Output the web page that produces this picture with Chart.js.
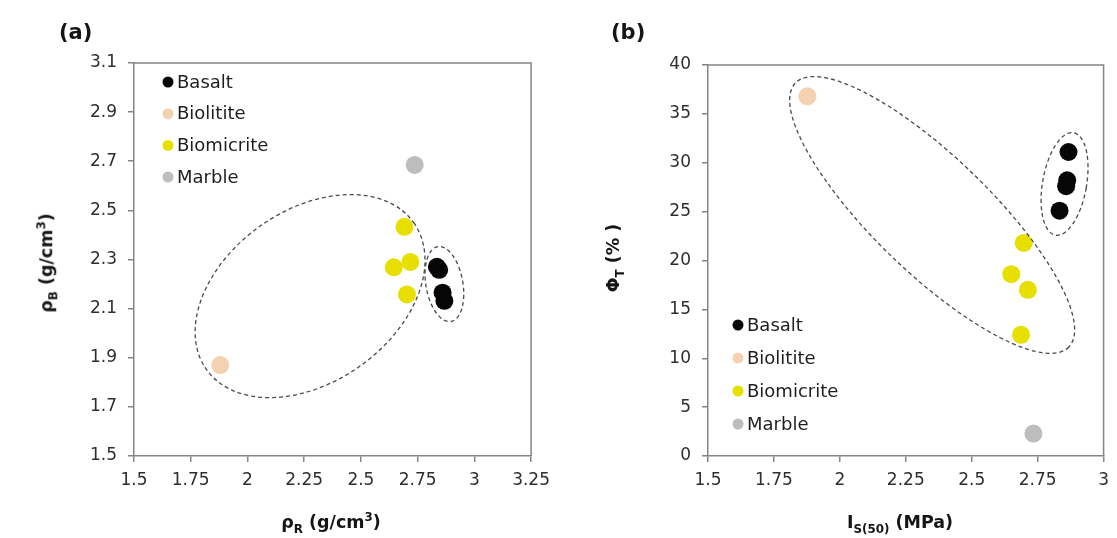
<!DOCTYPE html>
<html>
<head>
<meta charset="utf-8">
<script src="https://cdn.jsdelivr.net/npm/chart.js@4.4.1/dist/chart.umd.min.js"></script>
<style>
html, body { margin: 0; padding: 0; background: #fff; }
#wrap { position: relative; width: 1117px; height: 538px; overflow: hidden; font-family: "DejaVu Sans", sans-serif; }
canvas { position: absolute; top: 0; }
.lbl { position: absolute; white-space: nowrap; font-weight: bold; color: #151515; line-height: 1; }
.lbl sub, .lbl sup { font-size: 68%; line-height: 0; }
</style>
</head>
<body>
<div id="wrap">
  <canvas id="ca" width="558" height="538" style="left:0"></canvas>
  <canvas id="cb" width="559" height="538" style="left:558px"></canvas>

  <div class="lbl" style="left:59px;top:32px;font-size:21px;transform:translateY(-50%)">(a)</div>
  <div class="lbl" style="left:611px;top:32px;font-size:21px;transform:translateY(-50%)">(b)</div>

  <div class="lbl" style="left:331px;top:523px;font-size:17.5px;transform:translate(-50%,-50%)">&rho;<sub>R</sub> (g/cm<sup>3</sup>)</div>
  <div class="lbl" style="left:47px;top:263px;font-size:17.5px;transform:translate(-50%,-50%) rotate(-90deg)">&rho;<sub>B</sub> (g/cm<sup>3</sup>)</div>

  <div class="lbl" style="left:900px;top:523px;font-size:17.5px;transform:translate(-50%,-50%)">I<sub>S(50)</sub> (MPa)</div>
  <div class="lbl" style="left:614px;top:258px;font-size:17.5px;transform:translate(-50%,-50%) rotate(-90deg)">&Phi;<sub>T</sub> (% )</div>
</div>

<script>
// series
const seriesNames = ['Basalt', 'Biolitite', 'Biomicrite', 'Marble'];
const seriesColors = ['#060606', '#f3d1b1', '#e6df00', '#bdbdbd'];

// panel (a): rho_R vs rho_B
const basaltRhoR = [2.835, 2.845, 2.86, 2.868];
const basaltRhoB = [2.27, 2.258, 2.165, 2.132];
const biolititeRhoR = [1.88];
const biolititeRhoB = [1.87];
const biomicriteRhoR = [2.692, 2.645, 2.718, 2.703];
const biomicriteRhoB = [2.433, 2.268, 2.29, 2.158];
const marbleRhoR = [2.737];
const marbleRhoB = [2.685];

// panel (b): Is(50) vs Phi_T
const basaltIs = [2.833, 2.858, 2.862, 2.867];
const basaltPhi = [25.1, 27.6, 28.2, 31.1];
const biolititeIs = [1.877];
const biolititePhi = [36.8];
const biomicriteIs = [2.697, 2.65, 2.713, 2.687];
const biomicritePhi = [21.8, 18.6, 17.0, 12.4];
const marbleIs = [2.734];
const marblePhi = [2.3];

// axis ranges / ticks
const xTicksA = { min: 1.5, max: 3.25, step: 0.25 };
const yTicksA = { min: 1.5, max: 3.1, step: 0.2 };
const xTicksB = { min: 1.5, max: 3, step: 0.25 };
const yTicksB = { min: 0, max: 40, step: 5 };

// dashed group outlines: centre in data units, radii in px, rotation in deg
const groupsA = [
  { cx: 2.276, cy: 2.151, rx: 127, ry: 86, rot: -35.3 },
  { cx: 2.868, cy: 2.20, rx: 18.5, ry: 38, rot: -10 }
];
const groupsB = [
  { cx: 2.35, cy: 24.66, rx: 190, ry: 58, rot: 44 },
  { cx: 2.852, cy: 27.83, rx: 22, ry: 52, rot: 10 }
];

function pts(xs, ys) {
  return xs.map(function(x, i) { return { x: x, y: ys[i] }; });
}

function buildSets(pairs) {
  return pairs.map(function(p, i) {
    return {
      label: seriesNames[i],
      data: pts(p[0], p[1]),
      backgroundColor: seriesColors[i],
      borderWidth: 0,
      pointRadius: 9,
      pointHoverRadius: 9
    };
  });
}

const frame = {
  id: 'frame',
  afterDraw(chart) {
    const a = chart.chartArea, ctx = chart.ctx;
    ctx.save();
    ctx.strokeStyle = '#858585';
    ctx.lineWidth = 1.5;
    ctx.beginPath();
    ctx.moveTo(a.left, a.top);
    ctx.lineTo(a.right, a.top);
    ctx.lineTo(a.right, a.bottom);
    ctx.stroke();
    ctx.restore();
  }
};

const outlines = {
  id: 'outlines',
  afterDatasetsDraw(chart, args, opts) {
    const ctx = chart.ctx, xs = chart.scales.x, ys = chart.scales.y;
    ctx.save();
    ctx.strokeStyle = '#4a4a4a';
    ctx.lineWidth = 1.3;
    ctx.setLineDash([4, 3]);
    (opts.groups || []).forEach(function(g) {
      ctx.beginPath();
      ctx.ellipse(xs.getPixelForValue(g.cx), ys.getPixelForValue(g.cy), g.rx, g.ry, g.rot * Math.PI / 180, 0, Math.PI * 2);
      ctx.stroke();
    });
    ctx.restore();
  }
};

const boxLegend = {
  id: 'boxLegend',
  afterDraw(chart, args, opts) {
    const ctx = chart.ctx;
    ctx.save();
    ctx.font = '18px "DejaVu Sans"';
    ctx.textBaseline = 'middle';
    chart.data.datasets.forEach(function(ds, i) {
      const y = opts.y + i * opts.step;
      ctx.fillStyle = ds.backgroundColor;
      ctx.beginPath();
      ctx.arc(opts.x, y, 5.5, 0, Math.PI * 2);
      ctx.fill();
      ctx.fillStyle = '#1e1e1e';
      ctx.fillText(ds.label, opts.x + 9, y + 1);
    });
    ctx.restore();
  }
};

function axis(t, w, h) {
  const o = {
    type: 'linear',
    min: t.min,
    max: t.max,
    grid: { display: true, drawOnChartArea: false, drawTicks: true, tickLength: 6, color: '#858585', lineWidth: 1.5 },
    border: { display: true, color: '#858585', width: 1.5 },
    ticks: {
      stepSize: t.step,
      color: '#2e2e2e',
      font: { family: 'DejaVu Sans', size: 17 },
      callback: function(v) { return String(+v.toFixed(2)); }
    }
  };
  if (w) { o.afterFit = function(s) { s.width = w; }; o.ticks.padding = 11; }
  if (h) { o.afterFit = function(s) { s.height = h; }; o.ticks.padding = 8; }
  return o;
}

function makeChart(id, sets, xt, yt, yw, pad, groups, leg) {
  return new Chart(document.getElementById(id), {
    type: 'scatter',
    data: { datasets: sets },
    options: {
      responsive: false,
      animation: false,
      layout: { autoPadding: false, padding: pad },
      scales: { x: axis(xt, 0, 82), y: axis(yt, yw, 0) },
      plugins: {
        legend: { display: false },
        tooltip: { enabled: false },
        outlines: { groups: groups },
        boxLegend: leg
      }
    },
    plugins: [frame, outlines, boxLegend]
  });
}

makeChart('ca',
  buildSets([[basaltRhoR, basaltRhoB], [biolititeRhoR, biolititeRhoB], [biomicriteRhoR, biomicriteRhoB], [marbleRhoR, marbleRhoB]]),
  xTicksA, yTicksA, 134, { left: 0, top: 63, right: 25, bottom: 0 }, groupsA,
  { x: 168, y: 82, step: 31.7 });

makeChart('cb',
  buildSets([[basaltIs, basaltPhi], [biolititeIs, biolititePhi], [biomicriteIs, biomicritePhi], [marbleIs, marblePhi]]),
  xTicksB, yTicksB, 150, { left: 0, top: 65, right: 8, bottom: 0 }, groupsB,
  { x: 180, y: 325, step: 33 });
</script>
</body>
</html>
